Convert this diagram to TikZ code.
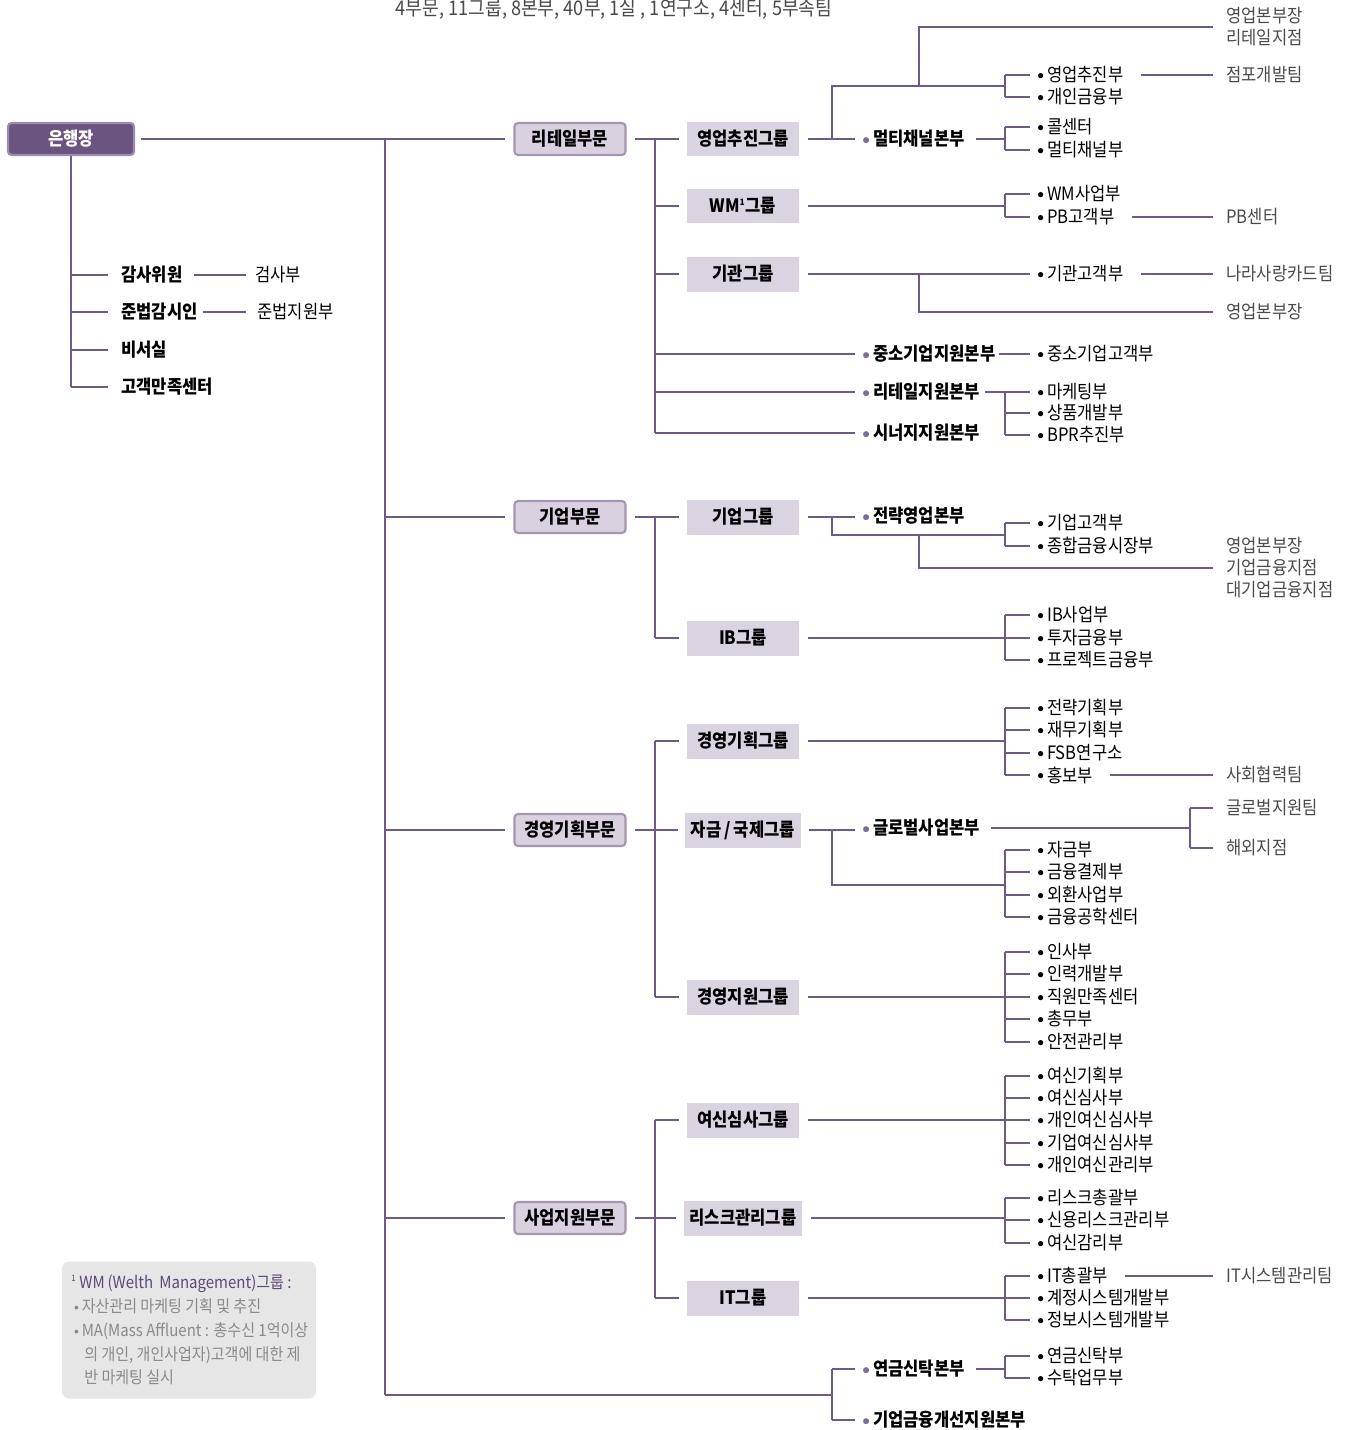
\documentclass[tikz,border=0pt]{standalone}
\usepackage{fontspec}
\setmainfont{Noto Sans CJK KR}[FakeStretch=0.9]

\definecolor{linepurple}{HTML}{6E5A86}
\definecolor{rootfill}{HTML}{6A5480}
\definecolor{rootedge}{HTML}{9C8CAF}
\definecolor{divfill}{HTML}{D9D1E0}
\definecolor{divedge}{HTML}{A396B2}
\definecolor{grpfill}{HTML}{DAD4E0}
\definecolor{dotpurple}{HTML}{7D6C96}
\definecolor{teamgray}{HTML}{4A4A4A}
\definecolor{notegray}{HTML}{E6E6E6}
\definecolor{notepurple}{HTML}{5C4A78}
\definecolor{notetext}{HTML}{8A8A8A}

\newcommand{\lbl}{\fontsize{10.5}{12.5}\selectfont}
\newcommand{\kd}{\raisebox{0.11em}{\scalebox{0.7}{$\bullet$}}\,}
\newcommand{\pd}{\textcolor{dotpurple}{\raisebox{0.07em}{\scalebox{0.8}{$\bullet$}}}\,}
\newcommand{\nd}{\raisebox{0.13em}{\scalebox{0.6}{$\bullet$}}\,}

\tikzset{
  link/.style={draw=linepurple,line width=0.6pt},
  tick/.style={link,shorten >=1.4mm},
  deptlink/.style={link,shorten <=3.4mm,shorten >=2.6mm},
  teamlink/.style={link,shorten >=2.6mm},
  rootbox/.style={fill=rootfill,draw=rootedge,line width=1.2pt,rounded corners=2pt,
    minimum width=2.52cm,minimum height=0.64cm,text=white,font=\lbl\bfseries},
  divbox/.style={fill=divfill,draw=divedge,line width=1.2pt,rounded corners=2pt,
    minimum width=2.22cm,minimum height=0.64cm,font=\lbl\bfseries},
  grpbox/.style={fill=grpfill,minimum width=2.26cm,minimum height=0.7cm,font=\lbl\bfseries},
  hq/.style={anchor=west,inner sep=0pt,font=\lbl\bfseries},
  side/.style={anchor=west,inner sep=0pt,font=\lbl\bfseries},
  plain/.style={anchor=west,inner sep=0pt,font=\lbl},
  dept/.style={anchor=west,inner sep=0pt,font=\lbl},
  team/.style={anchor=west,inner sep=0pt,font=\lbl,text=teamgray,align=left},
  notebox/.style={fill=notegray,rounded corners=4pt,minimum width=5.08cm,minimum height=2.74cm},
  notetxt/.style={anchor=west,inner sep=0pt,align=left,text=notetext,
    font=\fontsize{9.5}{13.6}\selectfont},
}

\begin{document}
\begin{tikzpicture}[x=0.02cm,y=-0.02cm]
\useasboundingbox (0,0) rectangle (1355,1430);

% title
\node[font=\fontsize{11.5}{14}\selectfont,text=teamgray] (title) at (614,9)
  {4부문, 11그룹, 8본부, 40부, 1실 , 1연구소, 4센터, 5부속팀};

% root and staff
\node[rootbox] (bank) at (71,139) {은행장};
\node[side] (audit) at (121,275) {감사위원};
\node[side] (compl) at (121,312) {준법감시인};
\node[side] (secr) at (121,350) {비서실};
\node[side] (cscen) at (121,387) {고객만족센터};
\node[plain] (insp) at (255,275) {검사부};
\node[plain] (compsup) at (257,312) {준법지원부};
\draw[link] (bank.south) -- (bank.south |- cscen.west);
\foreach \n in {audit,compl,secr,cscen}
  \draw[link,shorten >=2.6mm] (bank.south |- \n.west) -- (\n.west);
\draw[link,shorten <=2.2mm,shorten >=1.8mm] (audit.east) -- (insp.west);
\draw[link,shorten <=1mm,shorten >=2.2mm] (compl.east) -- (compsup.west);

% divisions
\node[divbox] (retail) at (570,139) {리테일부문};
\node[divbox] (corp) at (570,517) {기업부문};
\node[divbox] (mgmt) at (570,830) {경영기획부문};
\node[divbox] (supp) at (570,1218) {사업지원부문};
\coordinate (spine) at (385,139);
\coordinate (spend) at (385,1395);
\draw[link,shorten <=1.2mm,shorten >=1.6mm] (bank.east) -- (retail.west);
\draw[link] (spine) -- (spend);
\foreach \d in {corp,mgmt,supp}
  \draw[link,shorten >=1.6mm] (spine |- \d.west) -- (\d.west);

% retail division
\node[grpbox] (sales) at (743,139) {영업추진그룹};
\node[grpbox] (wm) at (743,206) {WM\textsuperscript{\tiny 1}그룹};
\node[grpbox] (inst) at (743,274) {기관그룹};
\node[hq] (multi) at (862,139) {\pd 멀티채널본부};
\node[hq] (sme) at (862,354) {\pd 중소기업지원본부};
\node[hq] (rsup) at (862,392) {\pd 리테일지원본부};
\node[hq] (syn) at (862,433) {\pd 시너지지원본부};
\coordinate (rj) at (655,139);
\draw[link,shorten <=1.6mm] (retail.east) -- (rj);
\draw[link] (rj) -- (rj |- syn.west);
\foreach \g in {sales,wm,inst,sme,rsup,syn}
  \draw[link,shorten >=1.4mm] (rj |- \g.west) -- (\g.west);

% sales group
\draw[link,shorten <=1.6mm,shorten >=1.4mm] (sales.east) -- (multi.west);
\foreach \n/\y/\t in {spromo/75/영업추진부,pfin/97/개인금융부,call/127/콜센터,mchan/150/멀티채널부}
  \node[dept] (\n) at (1037,\y) {\kd \t};
\node[team] (rbr) at (1226,27) {영업본부장\\리테일지점};
\node[team] (store) at (1226,75) {점포개발팀};
\coordinate (sj) at (832,139);
\coordinate (sb) at (1005,86);
\coordinate (sk) at (919,86);
\draw[link] (sj) |- (sb);
\draw[link] (sb |- spromo.west) -- (sb |- pfin.west);
\foreach \n in {spromo,pfin} \draw[tick] (sb |- \n.west) -- (\n.west);
\draw[teamlink] (sk) |- (rbr.west);
\draw[deptlink] (spromo.east) -- (store.west);
\coordinate (mb) at (1005,139);
\draw[link,shorten <=2.2mm] (multi.east) -- (mb);
\draw[link] (mb |- call.west) -- (mb |- mchan.west);
\foreach \n in {call,mchan} \draw[tick] (mb |- \n.west) -- (\n.west);

% WM group
\node[dept] (wmbiz) at (1037,194) {\kd WM사업부};
\node[dept] (pbcl) at (1037,217) {\kd PB고객부};
\node[team] (pbc) at (1226,217) {PB센터};
\coordinate (wb) at (1005,206);
\draw[link,shorten <=1.6mm] (wm.east) -- (wb);
\draw[link] (wb |- wmbiz.west) -- (wb |- pbcl.west);
\foreach \n in {wmbiz,pbcl} \draw[tick] (wb |- \n.west) -- (\n.west);
\draw[deptlink] (pbcl.east) -- (pbc.west);

% institution group
\node[dept] (instcl) at (1037,274) {\kd 기관고객부};
\node[team] (nara) at (1226,274) {나라사랑카드팀};
\node[team] (ibr) at (1226,312) {영업본부장};
\coordinate (ik) at (919,274);
\draw[link,shorten <=1.6mm,shorten >=1.4mm] (inst.east) -- (instcl.west);
\draw[deptlink] (instcl.east) -- (nara.west);
\draw[teamlink] (ik) |- (ibr.west);

% support hq of retail
\node[dept] (smecl) at (1037,354) {\kd 중소기업고객부};
\draw[link,shorten <=0.6mm,shorten >=1.4mm] (sme.east) -- (smecl.west);
\foreach \n/\y/\t in {mkt/392/마케팅부,prod/413/상품개발부,bpr/435/BPR추진부}
  \node[dept] (\n) at (1037,\y) {\kd \t};
\coordinate (rb) at (1005,392);
\draw[link,shorten <=1mm] (rsup.east) -- (rb);
\draw[link] (rb) -- (rb |- bpr.west);
\foreach \n in {mkt,prod,bpr} \draw[tick] (rb |- \n.west) -- (\n.west);

% corporate division
\node[grpbox] (cgrp) at (743,517) {기업그룹};
\node[grpbox] (ibg) at (743,638) {IB그룹};
\node[hq] (strat) at (862,516) {\pd 전략영업본부};
\coordinate (cj) at (655,517);
\draw[link,shorten <=1.6mm] (corp.east) -- (cj);
\draw[link] (cj) -- (cj |- ibg.west);
\foreach \g in {cgrp,ibg} \draw[link,shorten >=1.4mm] (cj |- \g.west) -- (\g.west);
\draw[link,shorten <=1.6mm,shorten >=1.4mm] (cgrp.east) -- (cgrp.east -| strat.west);
\foreach \n/\y/\t in {corpcl/523/기업고객부,gfm/546/종합금융시장부}
  \node[dept] (\n) at (1037,\y) {\kd \t};
\node[team] (cbr) at (1226,568) {영업본부장\\기업금융지점\\대기업금융지점};
\coordinate (cgj) at (832,517);
\coordinate (cb) at (1005,535);
\coordinate (ck) at (919,535);
\draw[link] (cgj) |- (cb);
\draw[link] (cb |- corpcl.west) -- (cb |- gfm.west);
\foreach \n in {corpcl,gfm} \draw[tick] (cb |- \n.west) -- (\n.west);
\draw[teamlink] (ck) |- (cbr.west);
\foreach \n/\y/\t in {ibbiz/615/IB사업부,invf/638/투자금융부,projf/660/프로젝트금융부}
  \node[dept] (\n) at (1037,\y) {\kd \t};
\coordinate (ib) at (1005,638);
\draw[link,shorten <=1.6mm] (ibg.east) -- (ib);
\draw[link] (ib |- ibbiz.west) -- (ib |- projf.west);
\foreach \n in {ibbiz,invf,projf} \draw[tick] (ib |- \n.west) -- (\n.west);

% planning division
\node[grpbox] (plang) at (743,741) {경영기획그룹};
\node[grpbox] (fxg) at (743,830) {자금\,/\,국제그룹};
\node[grpbox] (msg) at (743,997) {경영지원그룹};
\coordinate (mj) at (655,830);
\draw[link,shorten <=1.6mm] (mgmt.east) -- (mj);
\draw[link] (mj |- plang.west) -- (mj |- msg.west);
\foreach \g in {plang,fxg,msg} \draw[link,shorten >=1.4mm] (mj |- \g.west) -- (\g.west);
\foreach \n/\y/\t in {strp/708/전략기획부,finp/730/재무기획부,fsb/753/FSB연구소,pr/775/홍보부}
  \node[dept] (\n) at (1037,\y) {\kd \t};
\node[team] (social) at (1226,775) {사회협력팀};
\coordinate (pb) at (1005,741);
\draw[link,shorten <=1.6mm] (plang.east) -- (pb);
\draw[link] (pb |- strp.west) -- (pb |- pr.west);
\foreach \n in {strp,finp,fsb,pr} \draw[tick] (pb |- \n.west) -- (\n.west);
\draw[deptlink] (pr.east) -- (social.west);

\node[hq] (glob) at (862,828) {\pd 글로벌사업본부};
\draw[link,shorten <=1.6mm,shorten >=1.4mm] (fxg.east) -- (fxg.east -| glob.west);
\node[team] (gsup) at (1226,808) {글로벌지원팀};
\node[team] (ovs) at (1226,848) {해외지점};
\coordinate (gb) at (1190,828);
\draw[link,shorten <=2.2mm] (glob.east) -- (gb);
\draw[link] (gb |- gsup.west) -- (gb |- ovs.west);
\foreach \n in {gsup,ovs} \draw[teamlink] (gb |- \n.west) -- (\n.west);
\foreach \n/\y/\t in {fund/850/자금부,sett/872/금융결제부,fxbiz/895/외환사업부,feng/917/금융공학센터}
  \node[dept] (\n) at (1037,\y) {\kd \t};
\coordinate (fj) at (832,830);
\coordinate (fb) at (1005,885);
\draw[link] (fj) |- (fb);
\draw[link] (fb |- fund.west) -- (fb |- feng.west);
\foreach \n in {fund,sett,fxbiz,feng} \draw[tick] (fb |- \n.west) -- (\n.west);

\foreach \n/\y/\t in {hr/952/인사부,hrd/974/인력개발부,esc/997/직원만족센터,gen/1019/총무부,safe/1042/안전관리부}
  \node[dept] (\n) at (1037,\y) {\kd \t};
\coordinate (eb) at (1005,997);
\draw[link,shorten <=1.6mm] (msg.east) -- (eb);
\draw[link] (eb |- hr.west) -- (eb |- safe.west);
\foreach \n in {hr,hrd,esc,gen,safe} \draw[tick] (eb |- \n.west) -- (\n.west);

% business support division
\node[grpbox] (crg) at (743,1120) {여신심사그룹};
\node[grpbox] (rmg) at (743,1218) {리스크관리그룹};
\node[grpbox] (itg) at (743,1298) {IT그룹};
\coordinate (uj) at (655,1218);
\draw[link,shorten <=1.6mm] (supp.east) -- (uj);
\draw[link] (uj |- crg.west) -- (uj |- itg.west);
\foreach \g in {crg,rmg,itg} \draw[link,shorten >=1.4mm] (uj |- \g.west) -- (\g.west);

\foreach \n/\y/\t in {crp/1076/여신기획부,crv/1098/여신심사부,pcr/1120/개인여신심사부,ccr/1143/기업여신심사부,pcm/1165/개인여신관리부}
  \node[dept] (\n) at (1037,\y) {\kd \t};
\coordinate (xb) at (1005,1120);
\draw[link,shorten <=1.6mm] (crg.east) -- (xb);
\draw[link] (xb |- crp.west) -- (xb |- pcm.west);
\foreach \n in {crp,crv,pcr,ccr,pcm} \draw[tick] (xb |- \n.west) -- (\n.west);

\foreach \n/\y/\t in {rgen/1198/리스크총괄부,crm/1220/신용리스크관리부,caud/1243/여신감리부}
  \node[dept] (\n) at (1037,\y) {\kd \t};
\coordinate (kb) at (1005,1218);
\draw[link,shorten <=1.6mm] (rmg.east) -- (kb);
\draw[link] (kb |- rgen.west) -- (kb |- caud.west);
\foreach \n in {rgen,crm,caud} \draw[tick] (kb |- \n.west) -- (\n.west);

\foreach \n/\y/\t in {itgen/1276/IT총괄부,acct/1298/계정시스템개발부,info/1320/정보시스템개발부}
  \node[dept] (\n) at (1037,\y) {\kd \t};
\node[team] (itsys) at (1226,1276) {IT시스템관리팀};
\coordinate (tb) at (1005,1298);
\draw[link,shorten <=1.6mm] (itg.east) -- (tb);
\draw[link] (tb |- itgen.west) -- (tb |- info.west);
\foreach \n in {itgen,acct,info} \draw[tick] (tb |- \n.west) -- (\n.west);
\draw[deptlink] (itgen.east) -- (itsys.west);

% bottom hq
\node[hq] (pens) at (862,1369) {\pd 연금신탁본부};
\node[hq] (cfi) at (862,1420) {\pd 기업금융개선지원본부};
\coordinate (bj) at (832,1395);
\draw[link] (spend) -- (bj);
\draw[link] (bj |- pens.west) -- (bj |- cfi.west);
\foreach \n in {pens,cfi} \draw[tick] (bj |- \n.west) -- (\n.west);
\node[dept] (pensd) at (1037,1356) {\kd 연금신탁부};
\node[dept] (trust) at (1037,1378) {\kd 수탁업무부};
\coordinate (nb) at (1005,1367);
\draw[link,shorten <=2.2mm] (pens.east) -- (pens.east -| nb);
\draw[link] (nb |- pensd.west) -- (nb |- trust.west);
\foreach \n in {pensd,trust} \draw[tick] (nb |- \n.west) -- (\n.west);

% footnote
\node[notebox] (note) at (189,1330) {};
\node[notetxt] (notetext) at (71,1330)
  {{\color{notepurple}\textsuperscript{\tiny 1}\,WM\,(Welth\, Management)그룹 :}\\
   \,\nd 자산관리 마케팅 기획 및 추진\\
   \,\nd MA(Mass Affluent : 총수신 1억이상\\
   \hspace*{0.26cm}의 개인, 개인사업자)고객에 대한 제\\
   \hspace*{0.26cm}반 마케팅 실시};
\end{tikzpicture}
\end{document}
